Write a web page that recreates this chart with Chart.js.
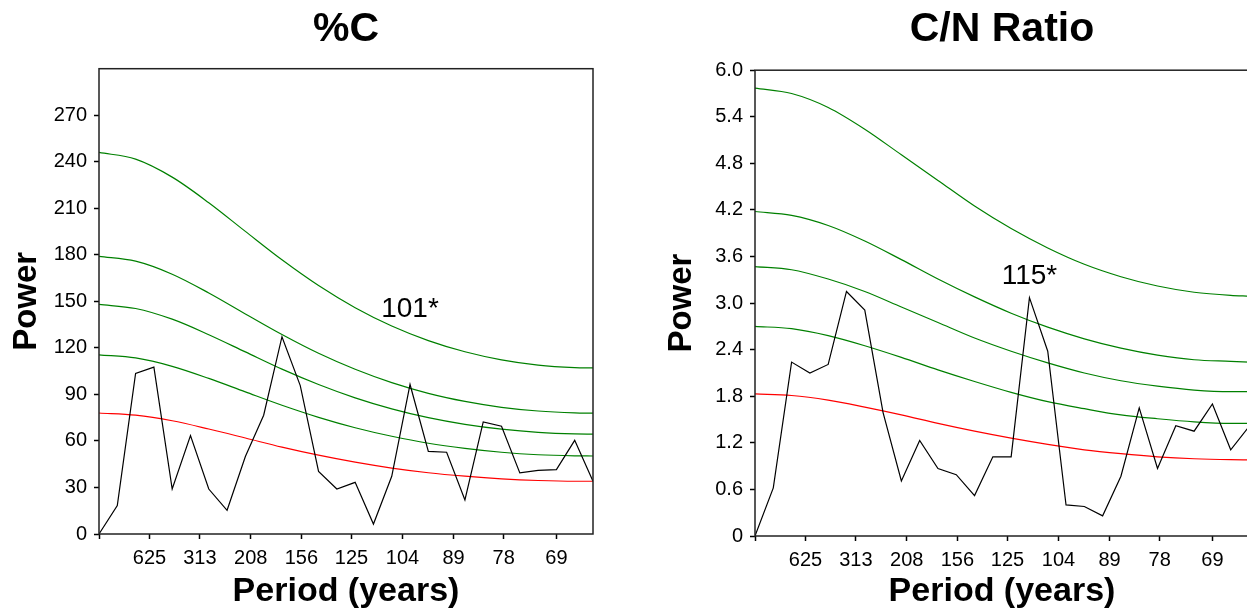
<!DOCTYPE html>
<html>
<head>
<meta charset="utf-8">
<title>Spectral power: %C and C/N ratio</title>
<script src="https://cdn.jsdelivr.net/npm/chart.js@4.4.1/dist/chart.umd.min.js"></script>
<style>
  html, body { margin:0; padding:0; background:#fff; overflow:hidden; }
  .panel  { position:absolute; top:0; height:616px; }
  #left   { left:0;     width:623px; }
  #right  { left:623px; width:640px; }
</style>
</head>
<body>
<div class="panel" id="left"><canvas id="chartC"></canvas></div>
<div class="panel" id="right"><canvas id="chartCN"></canvas></div>

<script>
/* ───────── data ───────── */
const SPAN = 1725;                        // record length (years) -> period of bin k = SPAN/k
const bins = [0,1,2,3,4,5,6,7,8,9,10,11,12,13,14,15,16,17,18,19,20,21,22,23,24,25,26,27];
const periodTicks = [625, 313, 208, 156, 125, 104, 89, 78, 69];
const curveBins   = [0, 2, 4, 6, 8, 10, 12, 14, 16, 18, 20, 22, 24, 26, 27];

/* %C spectrum */
const powerC = [0, 18.3, 103.5, 107.6, 29, 63.5, 29, 15.3, 50, 76.6, 127.2, 95.7, 40.4, 29,
                33.3, 6.4, 37.2, 96.4, 53.3, 52.7, 22, 72.3, 69.5, 39.4, 41, 41.5, 60.4, 34];
const redC   = [78, 76.6, 73.0, 67.7, 61.9, 56.0, 50.8, 46.3, 42.5, 39.5, 37.3, 35.6, 34.5, 34.0, 34.0];
const confC1 = [115.5, 113.5, 108.1, 100.3, 91.6, 83.0, 75.2, 68.5, 63.0, 58.5, 55.2, 52.7, 51.1, 50.4, 50.3];
const confC2 = [148, 145.4, 138.5, 128.5, 117.4, 106.3, 96.4, 87.8, 80.7, 75.0, 70.7, 67.6, 65.5, 64.5, 64.4];
const confC3 = [179, 175.9, 167.5, 155.4, 141.9, 128.6, 116.5, 106.2, 97.6, 90.7, 85.5, 81.7, 79.3, 78.1, 77.9];
const confC4 = [246, 241.7, 230.1, 213.6, 195.1, 176.8, 160.2, 145.9, 134.1, 124.7, 117.5, 112.3, 108.9, 107.3, 107.1];

/* C/N spectrum */
const powerCN = [0, 0.62, 2.24, 2.10, 2.21, 3.15, 2.91, 1.59, 0.71, 1.23, 0.87, 0.79, 0.52, 1.02,
                 1.02, 3.07, 2.38, 0.40, 0.38, 0.26, 0.77, 1.65, 0.87, 1.42, 1.35, 1.70, 1.11, 1.41];
const redCN   = [1.83, 1.81, 1.75, 1.66, 1.56, 1.45, 1.35, 1.26, 1.18, 1.11, 1.06, 1.02, 0.995, 0.983, 0.981];
const confCN1 = [2.70, 2.67, 2.58, 2.45, 2.30, 2.14, 1.99, 1.85, 1.73, 1.64, 1.56, 1.51, 1.47, 1.45, 1.45];
const confCN2 = [3.47, 3.43, 3.31, 3.15, 2.95, 2.75, 2.55, 2.38, 2.23, 2.10, 2.00, 1.93, 1.88, 1.86, 1.86];
const confCN3 = [4.18, 4.13, 4.00, 3.80, 3.56, 3.31, 3.08, 2.87, 2.69, 2.54, 2.42, 2.33, 2.27, 2.25, 2.24];
const confCN4 = [5.77, 5.70, 5.52, 5.24, 4.91, 4.58, 4.25, 3.96, 3.71, 3.50, 3.34, 3.22, 3.14, 3.10, 3.09];

/* significant peaks (bin, label height) */
const peakC  = { bin: 17, labelY: 145 };
const peakCN = { bin: 15, labelY: 3.34 };

/* ───────── helpers ───────── */
const FONT  = '"Liberation Sans", Arial, Helvetica, sans-serif';
const GREEN = '#008000';
const RED   = '#ff0000';

const pts = (xs, ys) => xs.map((x, i) => ({ x, y: ys[i] }));

const curve = (xs, ys, color) => ({
  data: pts(xs, ys), borderColor: color, borderWidth: 1.2,
  pointRadius: 0, cubicInterpolationMode: 'monotone', fill: false
});

/* box around the plot area */
const frame = {
  id: 'frame',
  afterDraw(chart) {
    const { ctx, chartArea: a } = chart;
    ctx.save();
    ctx.strokeStyle = '#222';
    ctx.lineWidth = 1.5;
    ctx.strokeRect(a.left, a.top, a.right - a.left, a.bottom - a.top);
    ctx.restore();
  }
};

/* "period*" label over a significant peak */
const peakLabel = {
  id: 'peakLabel',
  afterDatasetsDraw(chart, args, opts) {
    const { ctx, scales: { x, y } } = chart;
    ctx.save();
    ctx.font = '28px ' + FONT;
    ctx.fillStyle = '#000';
    ctx.textAlign = 'center';
    ctx.textBaseline = 'middle';
    ctx.fillText(Math.round(SPAN / opts.bin) + '*',
                 x.getPixelForValue(opts.bin), y.getPixelForValue(opts.labelY));
    ctx.restore();
  }
};

function makeChart(id, o) {
  return new Chart(document.getElementById(id), {
    type: 'line',
    data: {
      datasets: [
        { data: pts(bins, o.power), borderColor: '#000', borderWidth: 1.2,
          pointRadius: 0, tension: 0, fill: false },
        curve(curveBins, o.red,   RED),
        curve(curveBins, o.conf[0], GREEN),
        curve(curveBins, o.conf[1], GREEN),
        curve(curveBins, o.conf[2], GREEN),
        curve(curveBins, o.conf[3], GREEN)
      ]
    },
    plugins: [frame, peakLabel],
    options: {
      responsive: true,
      maintainAspectRatio: false,
      animation: false,
      events: [],
      layout: { padding: { left: 0, right: o.padRight, top: 0, bottom: 0 } },
      plugins: {
        legend:  { display: false },
        tooltip: { enabled: false },
        title: {
          display: true, text: o.title, color: '#000', fullSize: false,
          font: { family: FONT, size: 41, weight: 'bold', lineHeight: 1.2 },
          padding: { top: 5, bottom: o.titleGap }
        },
        peakLabel: o.peak
      },
      scales: {
        x: {
          type: 'linear', min: 0, max: 27,
          afterBuildTicks: ax => {
            ax.ticks = [0, ...periodTicks.map(p => SPAN / p)].map(value => ({ value }));
          },
          afterFit: s => { s.height = o.xHeight; },
          grid:   { display: true, drawOnChartArea: false, tickLength: 5, tickColor: '#000', tickWidth: 1.5 },
          border: { display: false },
          ticks: {
            autoSkip: false, maxRotation: 0, padding: 7, color: '#000',
            font: { family: FONT, size: 20 },
            callback: (v, i) => i ? String(periodTicks[i - 1]) : ''
          },
          title: {
            display: true, text: 'Period (years)', color: '#000',
            font: { family: FONT, size: 34, weight: 'bold', lineHeight: 1.2 },
            padding: { top: 0, bottom: 4 }
          }
        },
        y: {
          min: 0, max: o.yMax,
          afterBuildTicks: ax => { ax.ticks = ax.ticks.filter(t => t.value <= o.yLast + 1e-9); },
          afterFit: s => { s.width = o.yWidth; },
          grid:   { display: true, drawOnChartArea: false, tickLength: 5, tickColor: '#000', tickWidth: 1.5 },
          border: { display: false },
          ticks: {
            stepSize: o.yStep, padding: 7, color: '#000',
            font: { family: FONT, size: 20 },
            callback: o.yFmt
          },
          title: {
            display: true, text: 'Power', color: '#000',
            font: { family: FONT, size: 33, weight: 'bold', lineHeight: 1.2 },
            padding: { top: o.powerGap, bottom: 0 }
          }
        }
      }
    }
  });
}

/* ───────── panels ───────── */
makeChart('chartC', {
  title: '%C', power: powerC, red: redC, conf: [confC1, confC2, confC3, confC4],
  peak: peakC, yMax: 300, yLast: 270, yStep: 30, yFmt: v => String(v),
  yWidth: 99, xHeight: 82, padRight: 30, titleGap: 14.5, powerGap: 7
});

makeChart('chartCN', {
  title: 'C/N Ratio', power: powerCN, red: redCN, conf: [confCN1, confCN2, confCN3, confCN4],
  peak: peakCN, yMax: 6, yLast: 6, yStep: 0.6, yFmt: v => v === 0 ? '0' : v.toFixed(1),
  yWidth: 132, xHeight: 80, padRight: 14, titleGap: 16, powerGap: 39
});
</script>
</body>
</html>
